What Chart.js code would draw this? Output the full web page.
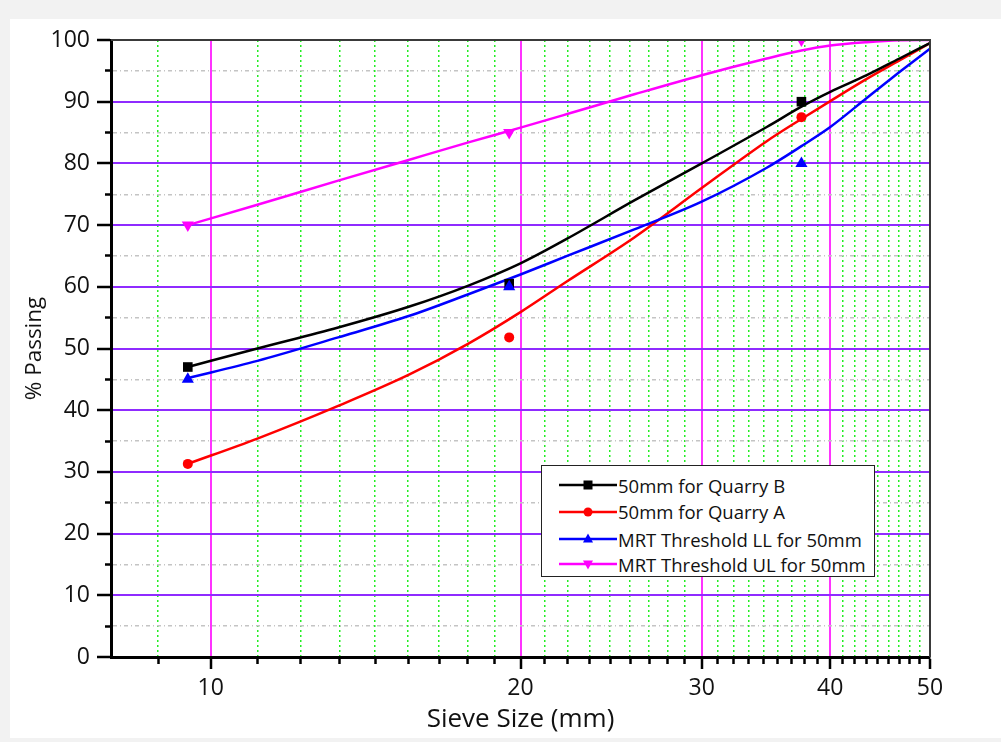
<!DOCTYPE html>
<html><head><meta charset="utf-8">
<script src="https://cdn.jsdelivr.net/npm/chart.js@4/dist/chart.umd.min.js"></script>
<style>
html,body{margin:0;padding:0;background:#f2f2f2;width:1001px;height:742px;overflow:hidden;}
#wrap{position:absolute;left:10px;top:19px;width:991px;height:719px;background:#fff;}
#c{position:absolute;left:0;top:0;}
#legend{position:absolute;left:531px;top:446px;width:334px;height:112px;border:1.5px solid #222;background:#fff;
  font-family:'Open Sans',sans-serif;font-size:18.5px;color:#111;box-sizing:border-box;}
.row{position:absolute;left:0;height:26px;display:flex;align-items:center;white-space:nowrap;}
.row svg{margin-left:17px;margin-right:1px;}
</style></head>
<body>
<div id="wrap"><canvas id="c" width="991" height="719"></canvas><div id="legend"></div></div>
<script>
// ---- data ----
const SIEVE_SIZES = [9.5, 19.5, 37.5];
const QUARRY_B = [47.0, 60.5, 90.0];
const QUARRY_A = [31.3, 51.8, 87.5];
const MRT_LL  = [45.0, 60.0, 80.0];
const MRT_UL  = [70.0, 85.0, 100.0];

// fitted curves
const FIT_SIZES = [9.5, 11.1, 13.3, 15.6, 17.8, 20, 22.2, 25.8, 30, 34.7, 37.5, 40, 43.4, 46.7, 50];
const FIT_B  = [47.0, 50.0, 53.4, 56.8, 60.2, 63.8, 67.8, 74.0, 80.0, 85.9, 89.2, 91.6, 94.3, 97.0, 99.5];
const FIT_A  = [31.3, 35.4, 40.7, 45.8, 50.8, 55.9, 60.9, 68.0, 76.0, 83.6, 87.2, 90.1, 93.7, 96.7, 99.5];
const FIT_LL = [45.2, 48.0, 51.8, 55.3, 58.8, 62.0, 65.0, 69.3, 73.8, 79.3, 82.8, 85.9, 90.6, 94.8, 98.6];
const FIT_UL = [70.0, 73.3, 77.2, 80.6, 83.4, 85.8, 88.0, 91.2, 94.3, 97.0, 98.3, 99.1, 99.65, 99.95, 100.0];

const SERIES_LABELS = ['50mm for Quarry B', '50mm for Quarry A', 'MRT Threshold LL for 50mm', 'MRT Threshold UL for 50mm'];
const SERIES_COLORS = ['#000000', '#ff0000', '#0000ff', '#ff00ff'];
const SERIES_POINTS = [QUARRY_B, QUARRY_A, MRT_LL, MRT_UL];
const SERIES_FITS = [FIT_B, FIT_A, FIT_LL, FIT_UL];

const X_MAJOR = [10, 20, 30, 40, 50];
const X_MIN = 8, X_MAX = 50;
const Y_MIN = 0, Y_MAX = 100, Y_MINOR_STEP = 5, Y_MAJOR_STEP = 10;
const X_TITLE = 'Sieve Size (mm)';
const Y_TITLE = '% Passing';

// ---- tick lists ----
const X_MINOR = [];
[0].concat(X_MAJOR).forEach((a, i, arr) => {
  if (i === arr.length - 1) return;
  const b = arr[i + 1];
  for (let j = 1; j <= 8; j++) { const v = a + j * (b - a) / 9; if (v >= X_MIN && v <= X_MAX) X_MINOR.push(v); }
});
const X_ALL = X_MINOR.concat(X_MAJOR).sort((p, q) => p - q);
const Y_ALL = [], Y_MINOR = [];
for (let v = Y_MIN; v <= Y_MAX; v += Y_MINOR_STEP) { Y_ALL.push(v); if (v % Y_MAJOR_STEP !== 0) Y_MINOR.push(v); }
const isMajX = v => X_MAJOR.includes(v);
const isMajY = v => v % Y_MAJOR_STEP === 0;

const FONT = 'Open Sans';
const STYLES = [
  {pointStyle: 'rect', radius: 6.8, rotation: 0},
  {pointStyle: 'circle', radius: 5, rotation: 0},
  {pointStyle: 'triangle', radius: 7, rotation: 0},
  {pointStyle: 'triangle', radius: 7, rotation: 180}
];

const datasets = [];
[2, 0, 1, 3].forEach(i => {
  datasets.push({
    label: SERIES_LABELS[i] + ' points',
    data: SIEVE_SIZES.map((x, k) => ({x: x, y: SERIES_POINTS[i][k]})),
    showLine: false,
    pointStyle: STYLES[i].pointStyle, pointRadius: STYLES[i].radius, pointRotation: STYLES[i].rotation,
    backgroundColor: SERIES_COLORS[i], borderColor: SERIES_COLORS[i], pointBorderWidth: 0,
    clip: 0
  });
});
[3, 2, 0, 1].forEach(i => {
  datasets.push({
    label: SERIES_LABELS[i],
    data: FIT_SIZES.map((x, k) => ({x: x, y: SERIES_FITS[i][k]})),
    showLine: true, pointRadius: 0, borderColor: SERIES_COLORS[i], borderWidth: 2.5,
    cubicInterpolationMode: 'monotone', clip: 0
  });
});

const framePlugin = {
  id: 'frame',
  afterDatasetsDraw(chart) {
    const {ctx, chartArea: a} = chart;
    ctx.save();
    ctx.strokeStyle = '#3a3a3a'; ctx.lineWidth = 2;
    ctx.beginPath(); ctx.moveTo(a.left, a.top); ctx.lineTo(a.right, a.top); ctx.lineTo(a.right, a.bottom); ctx.stroke();
    ctx.restore();
  }
};

new Chart(document.getElementById('c'), {
  type: 'scatter',
  data: {datasets},
  options: {
    responsive: false, animation: false, devicePixelRatio: 1,
    layout: {padding: {top: 21, right: 71, left: 0, bottom: 0}},
    plugins: {legend: {display: false}, tooltip: {enabled: false}},
    scales: {
      xm: {
        type: 'logarithmic', position: 'bottom', weight: 0, min: X_MIN, max: X_MAX,
        afterBuildTicks: s => { s.ticks = X_MINOR.map(v => ({value: v})); },
        afterFit: s => { s.height = 0; },
        ticks: {display: false},
        grid: {drawOnChartArea: false, tickLength: 7, tickColor: '#000', tickWidth: 2.5},
        border: {display: false}
      },
      x: {
        type: 'logarithmic', position: 'bottom', weight: 1, min: X_MIN, max: X_MAX,
        afterBuildTicks: s => { s.ticks = X_ALL.map(v => ({value: v})); },
        afterFit: s => { s.height = 81; },
        ticks: {autoSkip: false, maxRotation: 0, minRotation: 0, padding: 6, color: '#111',
          font: {family: FONT, size: 23}, callback: v => isMajX(v) ? String(v) : ''},
        grid: {
          color: c => c.tick && isMajX(c.tick.value) ? '#ff33ff' : '#22ee22',
          lineWidth: c => c.tick && isMajX(c.tick.value) ? 2 : 1.5,
          tickLength: 12,
          tickColor: c => c.tick && isMajX(c.tick.value) ? '#000' : 'rgba(0,0,0,0)',
          tickWidth: 2.5
        },
        border: {color: '#000', width: 3, dash: c => (c.tick && !isMajX(c.tick.value)) ? [2, 3] : []},
        title: {display: true, text: X_TITLE, color: '#111', font: {family: FONT, size: 26}, padding: {top: 0, bottom: 3}}
      },
      ym: {
        position: 'left', weight: 0, min: Y_MIN, max: Y_MAX,
        afterBuildTicks: s => { s.ticks = Y_MINOR.map(v => ({value: v})); },
        afterFit: s => { s.width = 0; },
        ticks: {display: false},
        grid: {drawOnChartArea: false, tickLength: 6, tickColor: '#000', tickWidth: 2.5},
        border: {display: false}
      },
      y: {
        position: 'left', weight: 1, min: Y_MIN, max: Y_MAX,
        afterBuildTicks: s => { s.ticks = Y_ALL.map(v => ({value: v})); },
        afterFit: s => { s.width = 101; },
        ticks: {autoSkip: false, padding: 7, color: '#111', font: {family: FONT, size: 23},
          callback: v => isMajY(v) ? String(v) : ''},
        grid: {
          color: c => {
            if (!c.tick) return 'rgba(0,0,0,0)';
            const v = c.tick.value;
            if (v === Y_MIN || v === Y_MAX) return 'rgba(0,0,0,0)';
            return isMajY(v) ? '#8f2bff' : '#c4c4c4';
          },
          lineWidth: c => c.tick && isMajY(c.tick.value) ? 2 : 1.5,
          tickLength: 14,
          tickColor: c => c.tick && isMajY(c.tick.value) ? '#000' : 'rgba(0,0,0,0)',
          tickWidth: 2.5
        },
        border: {color: '#000', width: 3, dash: c => (c.tick && !isMajY(c.tick.value)) ? [4, 3, 1, 3] : []},
        title: {display: true, text: Y_TITLE, color: '#111', font: {family: FONT, size: 22.5}, padding: {top: 11, bottom: 0}}
      }
    }
  },
  plugins: [framePlugin]
});

// ---- legend ----
const MARKERS = [
  c => `<rect x="24.5" y="8.5" width="9" height="9" fill="${c}"/>`,
  c => `<circle cx="29" cy="13" r="4.5" fill="${c}"/>`,
  c => `<polygon points="29,7.5 34,16.5 24,16.5" fill="${c}"/>`,
  c => `<polygon points="29,18.5 34,9.5 24,9.5" fill="${c}"/>`
];
const ROW_TOPS = [6, 32.5, 60, 85];
const leg = document.getElementById('legend');
SERIES_LABELS.forEach((lab, i) => {
  const r = document.createElement('div');
  r.className = 'row';
  r.style.top = ROW_TOPS[i] + 'px';
  r.innerHTML = `<svg width="58" height="26"><line x1="0" y1="13" x2="58" y2="13" stroke="${SERIES_COLORS[i]}" stroke-width="2.5"/>${MARKERS[i](SERIES_COLORS[i])}</svg><span>${lab}</span>`;
  leg.appendChild(r);
});
</script>
</body></html>
